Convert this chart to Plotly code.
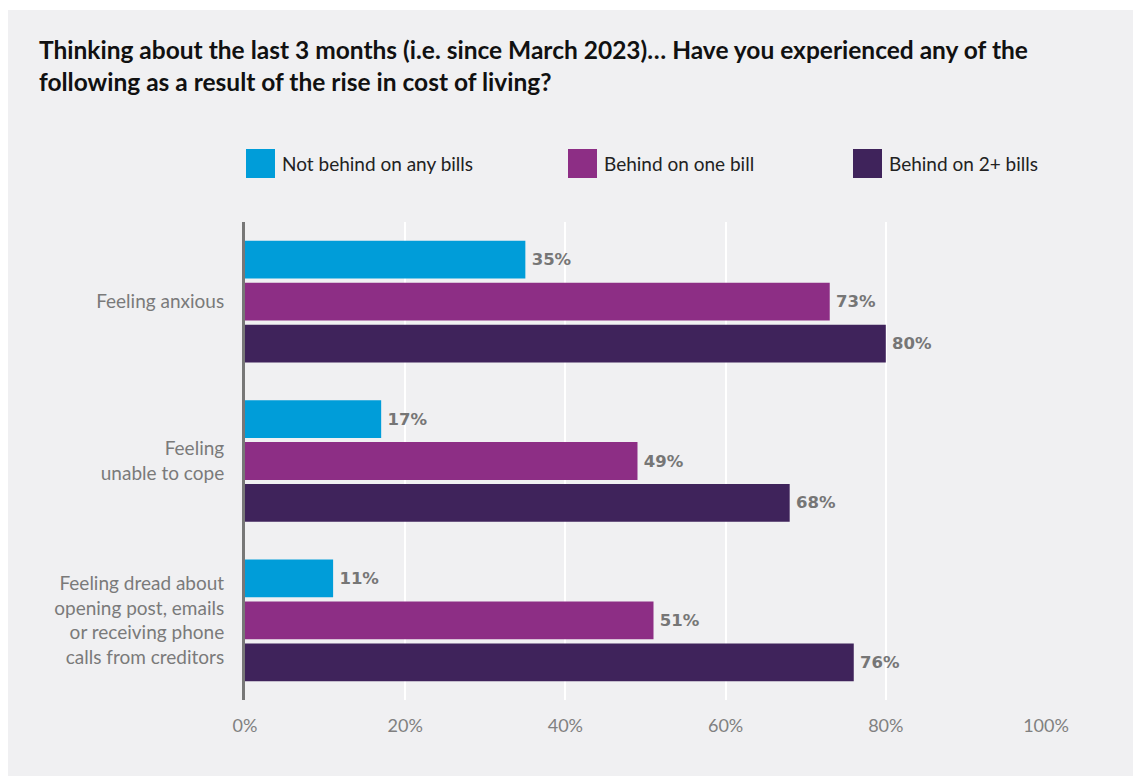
import plotly.graph_objects as go

# Survey responses: share of people reporting each experience, by arrears status
categories = [
    "Feeling anxious",
    "Feeling<br>unable to cope",
    "Feeling dread about<br>opening post, emails<br>or receiving phone<br>calls from creditors",
]
series_names = ["Not behind on any bills", "Behind on one bill", "Behind on 2+ bills"]
not_behind = [35, 17, 11]
behind_one = [73, 49, 51]
behind_two_plus = [80, 68, 76]
x_ticks = [0, 20, 40, 60, 80, 100]
x_tick_labels = ["0%", "20%", "40%", "60%", "80%", "100%"]

colors = ["#009dd9", "#8d2e85", "#3f235b"]
series_values = [not_behind, behind_one, behind_two_plus]

W, H = 1135, 776
ML, MR, MT, MB = 245, 89, 222, 76
PW, PH = W - ML - MR, H - MT - MB


def px_x(p):
    return (p - ML) / PW


def px_y(p):
    return (H - MB - p) / PH


fig = go.Figure()
for name, vals, col in zip(series_names, series_values, colors):
    fig.add_trace(go.Bar(
        y=categories, x=vals, name=name, orientation="h",
        marker=dict(color=col, line=dict(width=0)),
        text=[f"\u2009{v}%" for v in vals], textposition="outside",
        outsidetextfont=dict(family="DejaVu Sans", size=16.5, color="#767676", weight="bold"),
        cliponaxis=False, showlegend=False,
    ))

shapes = [
    # grey panel behind everything
    dict(type="rect", xref="paper", yref="paper", layer="below",
         x0=px_x(8), x1=px_x(1133), y0=px_y(776), y1=px_y(10),
         fillcolor="#f0f0f2", line=dict(width=0)),
]
annotations = [
    dict(xref="paper", yref="paper", x=px_x(37), y=px_y(33), xanchor="left", yanchor="top",
         align="left", showarrow=False,
         text="<b>Thinking about the last 3 months (i.e. since March 2023)… Have you experienced any of the<br>"
              "following as a result of the rise in cost of living?</b>",
         font=dict(family="Lato", size=24.5, color="#111111")),
]

# legend: coloured squares with series names
legend_x = [246, 568, 853]
for lx, name, col in zip(legend_x, series_names, colors):
    shapes.append(dict(type="rect", xref="paper", yref="paper",
                       x0=px_x(lx), x1=px_x(lx + 29), y0=px_y(178), y1=px_y(149),
                       fillcolor=col, line=dict(width=0)))
    annotations.append(dict(xref="paper", yref="paper", x=px_x(lx + 34), y=px_y(163.5),
                            xanchor="left", yanchor="middle", showarrow=False, text=name,
                            font=dict(family="Lato", size=19, color="#222222")))

fig.update_layout(
    width=W, height=H,
    margin=dict(l=ML, r=MR, t=MT, b=MB, autoexpand=False),
    paper_bgcolor="white", plot_bgcolor="rgba(0,0,0,0)",
    barmode="group", bargap=0.21, bargroupgap=0.1,
    shapes=shapes, annotations=annotations,
    xaxis=dict(range=[0, 100], tickvals=x_ticks, ticktext=x_tick_labels,
               showgrid=True, gridcolor="white", gridwidth=1.5,
               zeroline=False, showline=False, ticks="",
               tickfont=dict(family="Lato", size=18, color="#808080"), ticklabelstandoff=13),
    yaxis=dict(categoryorder="array", categoryarray=categories, autorange="reversed",
               showgrid=False, zeroline=False, showline=True, linecolor="#777777", linewidth=3,
               ticks="", tickfont=dict(family="Lato", size=19, color="#7a7a7a"),
               ticklabelstandoff=14),
)

fig.write_html("out.html")
